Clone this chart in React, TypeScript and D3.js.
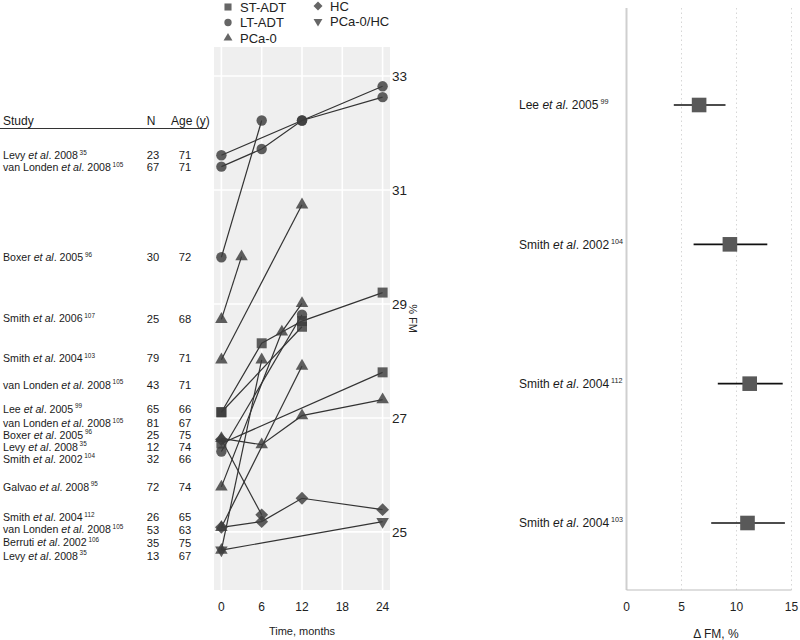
import React from "react";
import * as d3 from "d3";

// ---------- Legend ----------
const legendGroups = ["ST-ADT", "LT-ADT", "PCa-0", "HC", "PCa-0/HC"];

// ---------- Study table (left) ----------
const tableAuthors = ["Levy", "van Londen", "Boxer", "Smith", "Smith", "van Londen", "Lee", "van Londen", "Boxer", "Levy", "Smith", "Galvao", "Smith", "van Londen", "Berruti", "Levy"];
const tableYears = ["2008", "2008", "2005", "2006", "2004", "2008", "2005", "2008", "2005", "2008", "2002", "2008", "2004", "2008", "2002", "2008"];
const tableRefs = ["35", "105", "96", "107", "103", "105", "99", "105", "96", "35", "104", "95", "112", "105", "106", "35"];
const tableN = [23, 67, 30, 25, 79, 43, 65, 81, 25, 12, 32, 72, 26, 53, 35, 13];
const tableAge = [71, 71, 72, 68, 71, 71, 66, 67, 75, 74, 66, 74, 65, 63, 75, 67];
// row position expressed on the % FM scale
const tableRowFM = [31.61, 31.4, 29.82, 28.74, 28.05, 27.58, 27.16, 26.91, 26.7, 26.49, 26.28, 25.79, 25.26, 25.04, 24.81, 24.58];

// ---------- Trajectories (middle) ----------
const seriesGroup = ["LT-ADT", "LT-ADT", "LT-ADT", "PCa-0", "PCa-0", "ST-ADT", "ST-ADT", "ST-ADT", "PCa-0", "HC", "LT-ADT", "PCa-0", "PCa-0", "HC", "PCa-0", "PCa-0/HC"];
const seriesMonths = [
  [0, 12, 24], [0, 6, 12, 24], [0, 6], [0, 3], [0, 12], [0, 12], [0, 6, 12, 24], [0, 24],
  [0, 6, 12, 24], [0, 6], [0, 12], [0, 9, 12], [0, 12], [0, 6, 12, 24], [0, 6], [0, 24],
];
const seriesFM = [
  [31.61, 32.22, 32.82], [31.41, 31.72, 32.22, 32.63], [29.82, 32.22], [28.73, 29.83], [28.02, 30.74],
  [27.1, 28.6], [27.1, 28.31, 28.7, 29.2], [26.55, 27.8], [26.64, 26.53, 27.04, 27.32], [26.62, 25.3],
  [26.41, 28.81], [25.79, 28.51, 29.01], [25.08, 27.91], [25.08, 25.18, 25.59, 25.39], [24.68, 28.02], [24.68, 25.18],
];
const xTicks = [0, 6, 12, 18, 24];
const yTicks = [25, 27, 29, 31, 33];

// ---------- Forest plot (right) ----------
const forestAuthors = ["Lee", "Smith", "Smith", "Smith"];
const forestYears = ["2005", "2002", "2004", "2004"];
const forestRefs = ["99", "104", "112", "103"];
const forestEst = [6.6, 9.4, 11.2, 11.0];
const forestLo = [4.3, 6.1, 8.3, 7.7];
const forestHi = [9.0, 12.8, 14.2, 14.4];
const forestTicks = [0, 5, 10, 15];

const FONT = "'Liberation Sans', Arial, Helvetica, sans-serif";

function sym(type: d3.SymbolType, size: number): string {
  return d3.symbol().type(type).size(size)() as string;
}

const shapeFor = (g: string, big: boolean) => {
  const k = big ? 1 : 0.5;
  switch (g) {
    case "ST-ADT":
      return { d: sym(d3.symbolSquare, 100 * k), rot: 0 };
    case "LT-ADT":
      return { d: sym(d3.symbolCircle, 85 * k), rot: 0 };
    case "PCa-0":
      return { d: sym(d3.symbolTriangle, 68 * k), rot: 0 };
    case "HC":
      return { d: sym(d3.symbolSquare, 82 * k), rot: 45 };
    default:
      return { d: sym(d3.symbolTriangle, 68 * k), rot: 180 };
  }
};

function StudyLabel(props: { x: number; y: number; author: string; year: string; refNo: string; size: number; anchor?: string }) {
  const { x, y, author, year, refNo, size } = props;
  return (
    <text x={x} y={y} dy="0.35em" fontSize={size} fontFamily={FONT} fill="#1a1a1a" textAnchor={props.anchor || "start"}>
      {author} <tspan fontStyle="italic">et al</tspan>. {year}
      <tspan fontSize={size * 0.6} dy={-size * 0.4}>{" " + refNo}</tspan>
    </text>
  );
}

export default function App() {
  const x = d3.scaleLinear().domain([-1.1, 25.1]).range([214, 390]);
  const y = d3.scaleLinear().domain([23.98, 33.51]).range([590, 47]);
  const fx = d3.scaleLinear().domain([0, 15]).range([626.5, 791.5]);
  const forestKeys = forestAuthors.map((a, i) => `${a}-${forestYears[i]}-${forestRefs[i]}`);
  const fy = d3.scalePoint<string>().domain(forestKeys).range([105, 523]);
  const line = d3
    .line<[number, number]>()
    .x((d) => x(d[0]))
    .y((d) => y(d[1]));

  const [px0, px1] = x.range();
  const [py0, py1] = [y(y.domain()[1]), y(y.domain()[0])];

  const legendPos = [
    { lx: 228, ly: 7 },
    { lx: 228, ly: 22.5 },
    { lx: 228, ly: 38 },
    { lx: 318, ly: 6 },
    { lx: 318, ly: 21.5 },
  ];

  const rowFont = 10.6;

  return (
    <div style={{ position: "absolute", left: 0, top: 0 }}>
      <svg width={800} height={640} style={{ display: "block", background: "#fff" }}>
        {/* Legend */}
        {legendGroups.map((g, i) => {
          const s = shapeFor(g, false);
          return (
            <g key={g}>
              <path d={s.d} transform={`translate(${legendPos[i].lx},${legendPos[i].ly}) rotate(${s.rot})`} fill="#666" />
              <text x={legendPos[i].lx + 12} y={legendPos[i].ly} dy="0.35em" fontSize={13} fontFamily={FONT} fill="#222">
                {g}
              </text>
            </g>
          );
        })}

        {/* Table header */}
        <text x={3} y={121} fontSize={12} fontFamily={FONT} fill="#1a1a1a" dy="0.35em">Study</text>
        <text x={151} y={121} fontSize={12} fontFamily={FONT} fill="#1a1a1a" dy="0.35em" textAnchor="middle">N</text>
        <text x={171} y={121} fontSize={12} fontFamily={FONT} fill="#1a1a1a" dy="0.35em">Age (y)</text>
        <line x1={0} x2={207} y1={128.5} y2={128.5} stroke="#333" strokeWidth={1} />

        {/* Table rows */}
        {tableAuthors.map((a, i) => {
          const yy = y(tableRowFM[i]);
          return (
            <g key={"row" + i}>
              <StudyLabel x={3} y={yy} author={a} year={tableYears[i]} refNo={tableRefs[i]} size={rowFont} />
              <text x={153} y={yy} dy="0.35em" fontSize={rowFont + 0.6} fontFamily={FONT} fill="#1a1a1a" textAnchor="middle">{tableN[i]}</text>
              <text x={185} y={yy} dy="0.35em" fontSize={rowFont + 0.6} fontFamily={FONT} fill="#1a1a1a" textAnchor="middle">{tableAge[i]}</text>
            </g>
          );
        })}

        {/* Middle panel */}
        <rect x={px0} y={py0} width={px1 - px0} height={py1 - py0} fill="#efefef" />
        {xTicks.map((t) => (
          <line key={"gx" + t} x1={x(t)} x2={x(t)} y1={py0} y2={py1} stroke="#fff" strokeWidth={1.6} />
        ))}
        {yTicks.map((t) => (
          <line key={"gy" + t} x1={px0} x2={px1} y1={y(t)} y2={y(t)} stroke="#fff" strokeWidth={1.6} />
        ))}
        {seriesMonths.map((ms, i) => (
          <path
            key={"ln" + i}
            d={line(ms.map((m, j) => [m, seriesFM[i][j]] as [number, number])) as string}
            fill="none"
            stroke="#333"
            strokeWidth={1.2}
          />
        ))}
        {seriesMonths.map((ms, i) => {
          const s = shapeFor(seriesGroup[i], true);
          return ms.map((m, j) => (
            <path
              key={"pt" + i + "-" + j}
              d={s.d}
              transform={`translate(${x(m)},${y(seriesFM[i][j])}) rotate(${s.rot})`}
              fill="#3c3c3c"
              fillOpacity={0.82}
            />
          ));
        })}
        {xTicks.map((t) => (
          <text key={"tx" + t} x={x(t)} y={607} dy="0.35em" fontSize={12} fontFamily={FONT} fill="#222" textAnchor="middle">
            {t}
          </text>
        ))}
        <text x={(px0 + px1) / 2} y={631} dy="0.35em" fontSize={11} fontFamily={FONT} fill="#222" textAnchor="middle">
          Time, months
        </text>
        {yTicks.map((t) => (
          <text key={"ty" + t} x={392} y={y(t)} dy="0.35em" fontSize={13.5} fontFamily={FONT} fill="#222">
            {t}
          </text>
        ))}
        <text
          transform={`translate(413,${(py0 + py1) / 2}) rotate(90)`}
          dy="0.35em"
          fontSize={11}
          fontFamily={FONT}
          fill="#222"
          textAnchor="middle"
        >
          % FM
        </text>

        {/* Forest plot */}
        {forestTicks.slice(1).map((t) => (
          <line key={"fg" + t} x1={fx(t)} x2={fx(t)} y1={8} y2={590} stroke="#d6d6d6" strokeWidth={1} strokeDasharray="1.5,3" />
        ))}
        <line x1={fx(0)} x2={fx(0)} y1={8} y2={590} stroke="#cfcfcf" strokeWidth={2} />
        <line x1={fx(0)} x2={fx(15)} y1={590} y2={590} stroke="#bdbdbd" strokeWidth={1.2} />
        {forestKeys.map((k, i) => {
          const yy = fy(k) as number;
          return (
            <g key={k}>
              <StudyLabel x={519} y={yy} author={forestAuthors[i]} year={forestYears[i]} refNo={forestRefs[i]} size={12} />
              <line x1={fx(forestLo[i])} x2={fx(forestHi[i])} y1={yy} y2={yy} stroke="#111" strokeWidth={1.6} />
              <rect x={fx(forestEst[i]) - 7.3} y={yy - 7.3} width={14.6} height={14.6} fill="#595959" />
            </g>
          );
        })}
        {forestTicks.map((t) => (
          <text key={"ft" + t} x={fx(t)} y={607} dy="0.35em" fontSize={12} fontFamily={FONT} fill="#222" textAnchor="middle">
            {t}
          </text>
        ))}
        <text x={716} y={634} dy="0.35em" fontSize={12} fontFamily={FONT} fill="#222" textAnchor="middle">
          Δ FM, %
        </text>
      </svg>
    </div>
  );
}
